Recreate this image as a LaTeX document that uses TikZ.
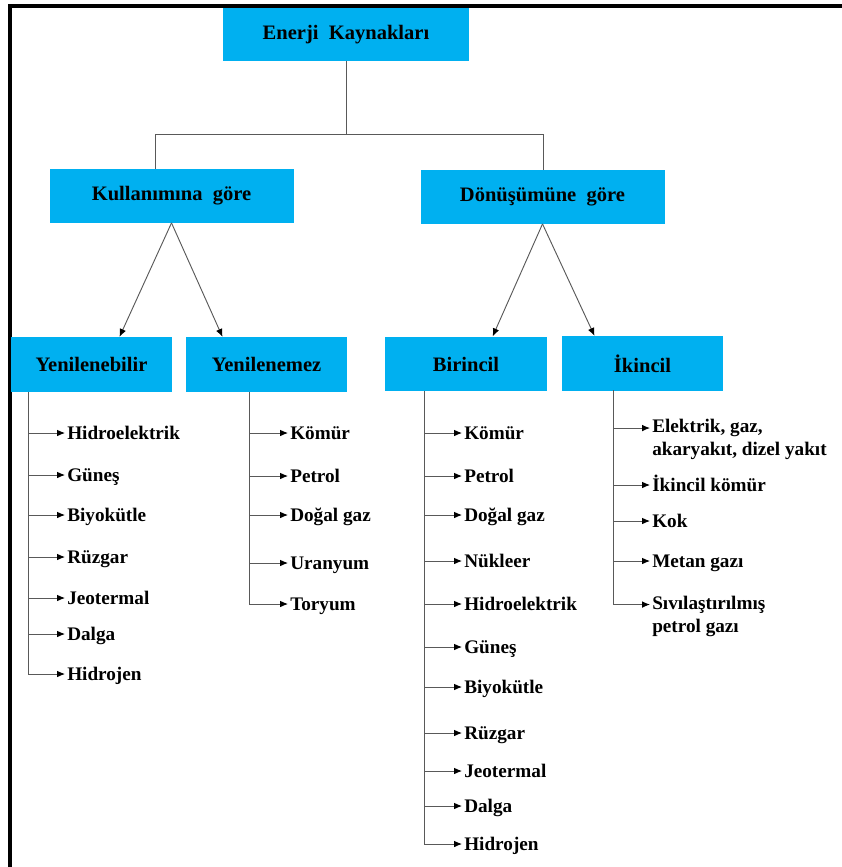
\documentclass[tikz,border=0pt]{standalone}
\usepackage{fontspec}
\setmainfont{Liberation Serif}
\usepackage{tikz}
\usetikzlibrary{arrows.meta,positioning}
\definecolor{KaynakBlue}{HTML}{00B0F0}
\definecolor{KaynakInk}{HTML}{595959}
\tikzset{
  >={Latex[length=6pt,width=5pt,color=black]},
  flow/.style={->,draw=KaynakInk,line width=0.7pt},
  link/.style={draw=KaynakInk,line width=0.7pt},
  box/.style={fill=KaynakBlue,minimum width=183pt,minimum height=40pt,
    inner sep=0pt,font=\bfseries\fontsize{15.4}{18}\selectfont},
  subbox/.style={box,minimum width=121pt,minimum height=41pt},
  item/.style={anchor=west,inner sep=1.5pt,text height=13pt,text depth=3.5pt,
    font=\bfseries\fontsize{14.4}{17.3}\selectfont},
  itemtwo/.style={anchor=west,inner sep=1.5pt,align=left,
    font=\bfseries\fontsize{14.4}{17.3}\selectfont}
}

\begin{document}
\begin{tikzpicture}[x=0.75pt,y=-0.75pt]
    \useasboundingbox (0,0) rectangle (842,867);
    \draw[line width=2.6pt] (10,867) -- (10,6) -- (842,6);

    \node[box,minimum width=185pt] (top) at (346,34.5) {Enerji\ \ Kaynakları};
    \node[box] (kul) at (171.5,196) {Kullanımına\ \ göre};
    \node[box] (don) at (542.5,197) {Dönüşümüne\ \ göre};
    \node[subbox] (yen) at (91.5,364.5) {Yenilenebilir};
    \node[subbox] (yem) at (266.5,364.5) {Yenilenemez};
    \node[subbox] (bir) at (466,364) {Birincil};
    \node[subbox] (iki) at (642.5,363.5) {İkincil};

    \coordinate (hl) at (155,134);
    \coordinate (hr) at (543,134);
    \draw[link] (top.south) -- (top.south |- hl);
    \draw[link] (kul.north -| hl) -- (hl) -- (hr) -- (don.north -| hr);
    \draw[flow] (kul.south) -- ([xshift=21pt]yen.north);
    \draw[flow] (kul.south) -- ([xshift=-33pt]yem.north);
    \draw[flow] (don.south) -- ([xshift=20pt]bir.north);
    \draw[flow] (don.south) -- ([xshift=-36pt]iki.north);

    % Yenilenebilir
    \coordinate (yentr) at (28,392);
    \foreach \i/\y/\t in {1/433/Hidroelektrik,2/475/Güneş,3/515/Biyokütle,
        4/557/Rüzgar,5/598/Jeotermal,6/634/Dalga,7/674/Hidrojen}{
      \node[item] (yen\i) at (65,\y) {\t};
      \draw[flow] (yentr |- yen\i.west) -- (yen\i.west);
    }
    \draw[link] (yentr) -- (yentr |- yen7.west);

    % Yenilenemez
    \coordinate (yemtr) at (249,392);
    \foreach \i/\y/\t in {1/433/Kömür,2/476/Petrol,3/515/Doğal gaz,
        4/563/Uranyum,5/604/Toryum}{
      \node[item] (yem\i) at (288,\y) {\t};
      \draw[flow] (yemtr |- yem\i.west) -- (yem\i.west);
    }
    \draw[link] (yemtr) -- (yemtr |- yem5.west);

    % Birincil
    \coordinate (birtr) at (424,391);
    \foreach \i/\y/\t in {1/433/Kömür,2/476/Petrol,3/515/Doğal gaz,
        4/561/Nükleer,5/604/Hidroelektrik,6/647/Güneş,7/687/Biyokütle,
        8/733/Rüzgar,9/771/Jeotermal,10/806/Dalga,11/844/Hidrojen}{
      \node[item] (bir\i) at (462,\y) {\t};
      \draw[flow] (birtr |- bir\i.west) -- (bir\i.west);
    }
    \draw[link] (birtr) -- (birtr |- bir11.west);

    % İkincil
    \coordinate (ikitr) at (613,390);
    \node[itemtwo] (iki1) at (650,439.5) {Elektrik, gaz,\\akaryakıt, dizel yakıt};
    \node[item] (iki2) at (650,485) {İkincil kömür};
    \node[item] (iki3) at (650,521) {Kok};
    \node[item] (iki4) at (650,561) {Metan gazı};
    \node[itemtwo] (iki5) at (650,616) {Sıvılaştırılmış\\petrol gazı};
    \draw[flow] ([yshift=8.6pt]iki1.west -| ikitr) -- ([yshift=8.6pt]iki1.west);
    \draw[flow] (ikitr |- iki2.west) -- (iki2.west);
    \draw[flow] (ikitr |- iki3.west) -- (iki3.west);
    \draw[flow] (ikitr |- iki4.west) -- (iki4.west);
    \draw[flow] ([yshift=8.6pt]iki5.west -| ikitr) -- ([yshift=8.6pt]iki5.west);
    \draw[link] (ikitr) -- ([yshift=8.6pt]iki5.west -| ikitr);
\end{tikzpicture}
\end{document}
